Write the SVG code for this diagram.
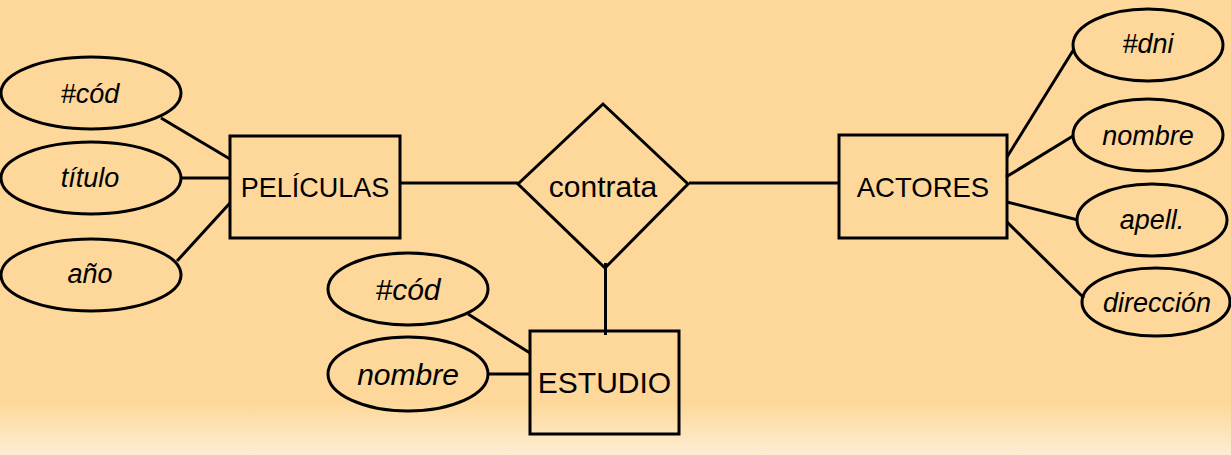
<svg xmlns="http://www.w3.org/2000/svg" width="1231" height="455" viewBox="0 0 1231 455">
<defs>
<linearGradient id="bg" x1="0" y1="0" x2="0" y2="1">
<stop offset="0" stop-color="#FDD89A"/>
<stop offset="0.885" stop-color="#FDD89A"/>
<stop offset="1" stop-color="#FEEDD2"/>
</linearGradient>
</defs>
<style>
.s{fill:none;stroke:#000;stroke-width:3}
.l{stroke:#000;stroke-width:3;fill:none}
.t{font-family:"Liberation Sans",Arial,sans-serif;fill:#000;text-anchor:middle}
.a{font-style:italic;font-size:27px}
</style>
<rect x="0" y="0" width="1231" height="455" fill="url(#bg)"/>
<g id="connectors">
<line class="l" x1="161" y1="118" x2="230" y2="159"/>
<line class="l" x1="182" y1="178" x2="230" y2="178"/>
<line class="l" x1="177" y1="261" x2="230" y2="203"/>
<line class="l" x1="400" y1="183" x2="518" y2="183"/>
<line class="l" x1="689" y1="183" x2="839" y2="183"/>
<line class="l" x1="605.5" y1="263" x2="605.5" y2="335"/>
<line class="l" x1="468" y1="314" x2="530" y2="353"/>
<line class="l" x1="488" y1="374" x2="530" y2="374"/>
<line class="l" x1="1007" y1="157" x2="1074" y2="49"/>
<line class="l" x1="1006" y1="177" x2="1073" y2="136"/>
<line class="l" x1="1007" y1="202" x2="1078" y2="220"/>
<line class="l" x1="1007" y1="222" x2="1084" y2="298"/>
</g>
<g id="peliculas">
<rect class="s" x="230" y="136" width="170" height="102"/>
<text class="t" x="315" y="197" font-size="27">PELÍCULAS</text>
</g>
<g id="pel-cod">
<ellipse class="s" cx="91" cy="93" rx="90" ry="36"/>
<text class="t a" x="90" y="103">#cód</text>
</g>
<g id="pel-titulo">
<ellipse class="s" cx="91" cy="178" rx="90" ry="36"/>
<text class="t a" x="90" y="187">título</text>
</g>
<g id="pel-anio">
<ellipse class="s" cx="91" cy="275" rx="90" ry="36"/>
<text class="t a" x="90" y="283">año</text>
</g>
<g id="contrata">
<polygon class="s" points="603,104 688,184 605,268 518,184"/>
<text class="t" x="603" y="197" font-size="30">contrata</text>
</g>
<g id="estudio">
<rect class="s" x="530" y="331" width="149" height="103"/>
<text class="t" x="604.5" y="393" font-size="30">ESTUDIO</text>
</g>
<g id="est-cod">
<ellipse class="s" cx="408" cy="289" rx="80" ry="36"/>
<text class="t" x="408" y="300" font-size="30" font-style="italic">#cód</text>
</g>
<g id="est-nombre">
<ellipse class="s" cx="408" cy="374" rx="80" ry="37"/>
<text class="t" x="408" y="385" font-size="30" font-style="italic">nombre</text>
</g>
<g id="actores">
<rect class="s" x="839" y="135" width="168" height="103"/>
<text class="t" x="923" y="197" font-size="27.5">ACTORES</text>
</g>
<g id="act-dni">
<ellipse class="s" cx="1148" cy="45" rx="75" ry="36"/>
<text class="t a" x="1148" y="53">#dni</text>
</g>
<g id="act-nombre">
<ellipse class="s" cx="1148" cy="135" rx="75" ry="36"/>
<text class="t a" x="1148" y="145">nombre</text>
</g>
<g id="act-apell">
<ellipse class="s" cx="1152" cy="220" rx="75" ry="36"/>
<text class="t a" x="1152" y="229">apell.</text>
</g>
<g id="act-direccion">
<ellipse class="s" cx="1156" cy="302" rx="74" ry="34"/>
<text class="t a" x="1157" y="312">dirección</text>
</g>
</svg>
